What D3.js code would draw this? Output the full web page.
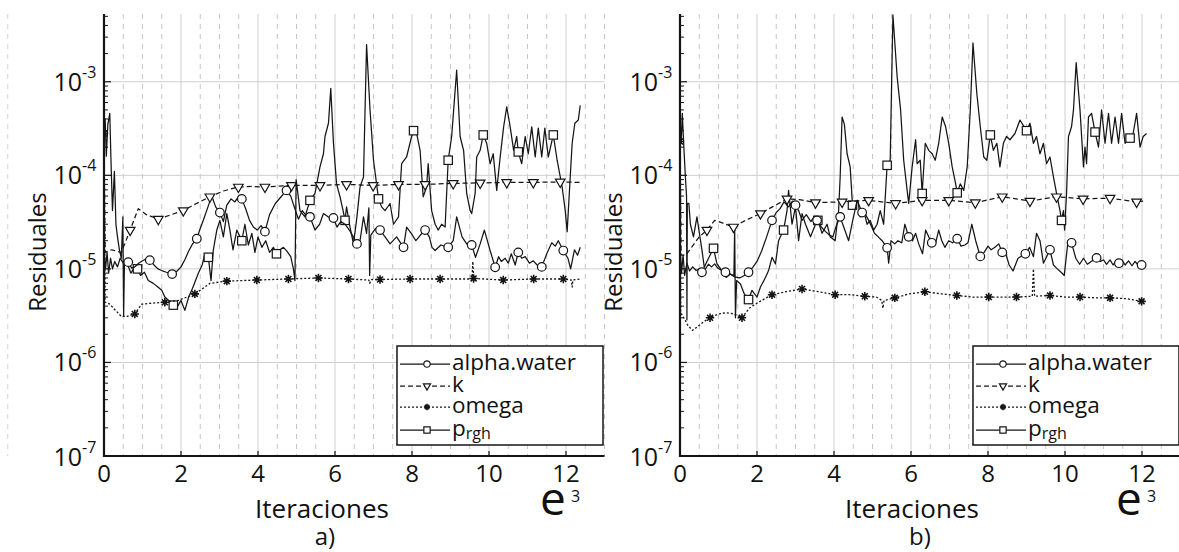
<!DOCTYPE html>
<html>
<head>
<meta charset="utf-8">
<script src="https://cdnjs.cloudflare.com/ajax/libs/d3/7.8.5/d3.min.js"></script>
<style>
  body { margin: 0; background: #fff; }
  svg { display: block; }
  text { font-family: 'Open Sans', 'Noto Sans', sans-serif; fill: #111; }
</style>
</head>
<body>
<svg id="chart" width="1179" height="552"></svg>
<script>
// ---- Residual histories, iterations in thousands (e3) ----

// Case a)
const alphaA = [[0,1.6e-5],[0.04,1.0e-5],[0.08,1.5e-5],[0.12,9.0e-6],[0.17,1.3e-5],[0.22,1.0e-5],[0.28,1.2e-5],[0.35,1.05e-5],[0.42,1.3e-5],[0.5,1.15e-5],[0.57,1.25e-5],[0.63,1.18e-5],[0.72,1.02e-5],[0.8,1.05e-5],[0.9,1.15e-5],[1.0,1.22e-5],[1.1,1.28e-5],[1.19,1.24e-5],[1.3,1.1e-5],[1.4,1.0e-5],[1.5,9.6e-6],[1.62,9.2e-6],[1.77,8.8e-6],[1.9,9.5e-6],[2.0,1.05e-5],[2.1,1.25e-5],[2.2,1.55e-5],[2.3,1.85e-5],[2.41,2.1e-5],[2.5,2.7e-5],[2.6,3.5e-5],[2.7,4.6e-5],[2.8,6.0e-5],[2.9,4.6e-5],[3.01,4.0e-5],[3.1,3.2e-5],[3.19,4.8e-5],[3.3,5.6e-5],[3.4,5.2e-5],[3.5,6.0e-5],[3.58,5.6e-5],[3.68,4.4e-5],[3.78,3.3e-5],[3.88,2.8e-5],[3.98,2.6e-5],[4.08,2.9e-5],[4.18,2.5e-5],[4.3,3.8e-5],[4.45,5.0e-5],[4.6,5.9e-5],[4.74,6.9e-5],[4.85,6.0e-5],[4.95,4.5e-5],[5.05,3.4e-5],[5.15,4.2e-5],[5.25,3.7e-5],[5.35,3.6e-5],[5.48,2.6e-5],[5.6,3.0e-5],[5.7,3.9e-5],[5.82,3.6e-5],[5.96,3.5e-5],[6.05,2.8e-5],[6.15,3.2e-5],[6.26,3.0e-5],[6.4,2.5e-5],[6.57,1.85e-5],[6.65,2.0e-5],[6.74,3.6e-5],[6.82,2.4e-5],[6.88,4.5e-5],[6.9,8.5e-6],[6.93,2.3e-5],[7.05,2.7e-5],[7.17,2.6e-5],[7.3,2.2e-5],[7.43,1.85e-5],[7.6,2.2e-5],[7.78,1.7e-5],[7.86,2.8e-5],[7.98,2.4e-5],[8.1,2.0e-5],[8.22,2.3e-5],[8.34,2.6e-5],[8.45,2.2e-5],[8.52,1.7e-5],[8.6,1.57e-5],[8.75,1.8e-5],[8.94,1.7e-5],[9.07,2.0e-5],[9.16,3.6e-5],[9.3,2.2e-5],[9.42,1.85e-5],[9.55,1.8e-5],[9.65,1.33e-5],[9.77,1.85e-5],[9.88,2.6e-5],[10.03,1.57e-5],[10.16,1.04e-5],[10.25,1.35e-5],[10.32,1.2e-5],[10.42,1.3e-5],[10.5,1.15e-5],[10.58,1.45e-5],[10.68,1.1e-5],[10.76,1.5e-5],[10.85,1.3e-5],[10.94,1.35e-5],[11.05,1.15e-5],[11.15,1.22e-5],[11.25,1.1e-5],[11.37,1.05e-5],[11.5,1.45e-5],[11.63,1.9e-5],[11.72,1.75e-5],[11.8,2.0e-5],[11.93,1.57e-5],[12.05,1.3e-5],[12.12,1.0e-5],[12.22,1.6e-5],[12.3,1.4e-5],[12.37,1.7e-5]];
const alphaMarksA = [0.63,1.19,1.77,2.41,3.01,3.58,4.18,4.74,5.35,5.96,6.57,7.17,7.78,8.34,8.94,9.55,10.16,10.76,11.37,11.93];

const kA = [[0,2.5e-4],[0.03,1.5e-5],[0.2,1.6e-5],[0.45,1.5e-5],[0.68,2.6e-5],[0.89,4.4e-5],[1.1,3.8e-5],[1.41,3.4e-5],[1.75,3.8e-5],[2.06,4.2e-5],[2.4,5.0e-5],[2.75,5.9e-5],[3.1,6.8e-5],[3.49,7.5e-5],[3.85,7.6e-5],[4.18,7.5e-5],[4.87,7.8e-5],[5.61,7.8e-5],[6.3,8.0e-5],[6.99,7.8e-5],[7.65,8.0e-5],[8.34,8.0e-5],[9.07,8.2e-5],[9.77,8.3e-5],[10.46,8.4e-5],[11.15,8.4e-5],[11.85,8.5e-5],[12.37,8.4e-5]];
const kMarksA = [0.68,1.41,2.06,2.75,3.49,4.18,4.87,5.61,6.3,6.99,7.65,8.34,9.07,9.77,10.46,11.15,11.85];

const omegaA = [[0,2.8e-4],[0.03,4.4e-6],[0.15,4.2e-6],[0.3,3.6e-6],[0.45,3.1e-6],[0.6,3.1e-6],[0.8,3.3e-6],[0.98,4.2e-6],[1.25,4.3e-6],[1.58,4.4e-6],[1.93,4.6e-6],[2.36,5.4e-6],[2.62,6.4e-6],[2.75,7.0e-6],[3.19,7.4e-6],[3.97,7.6e-6],[4.79,7.8e-6],[5.57,8.0e-6],[6.35,7.8e-6],[6.88,7.6e-6],[6.9,7.0e-6],[6.95,7.7e-6],[7.17,7.7e-6],[7.95,7.8e-6],[8.73,7.8e-6],[9.56,7.8e-6],[9.58,1.2e-5],[9.6,7.9e-6],[10.37,7.6e-6],[11.16,7.8e-6],[11.93,7.8e-6],[12.14,7.6e-6],[12.16,6.4e-6],[12.18,7.6e-6],[12.37,7.8e-6]];
const omegaMarksA = [0,0.8,1.58,2.36,3.19,3.97,4.79,5.57,6.35,7.17,7.95,8.73,9.6,10.37,11.16,11.93];

const prghA = [[0,2.8e-4],[0.03,4.0e-4],[0.06,1.6e-4],[0.1,3.5e-4],[0.15,4.6e-4],[0.18,1.5e-4],[0.22,4.2e-5],[0.27,1.1e-4],[0.31,3.0e-5],[0.35,2.2e-5],[0.4,1.6e-5],[0.45,1.3e-5],[0.49,3.6e-5],[0.51,3.1e-6],[0.53,1.1e-5],[0.6,1.15e-5],[0.7,9.0e-6],[0.8,1.05e-5],[0.87,1.0e-5],[0.95,8.5e-6],[1.05,9.2e-6],[1.15,7.5e-6],[1.28,7.0e-6],[1.4,6.4e-6],[1.5,5.9e-6],[1.58,5.0e-6],[1.7,4.5e-6],[1.8,4.1e-6],[1.9,3.9e-6],[2.0,4.6e-6],[2.1,3.6e-6],[2.2,5.0e-6],[2.3,6.2e-6],[2.45,9.0e-6],[2.55,1.1e-5],[2.62,1.45e-5],[2.71,1.33e-5],[2.78,7.5e-6],[2.84,1.6e-5],[2.93,2.6e-5],[3.01,3.3e-5],[3.1,2.2e-5],[3.19,3.9e-5],[3.27,2.6e-5],[3.35,1.6e-5],[3.45,2.6e-5],[3.58,2.0e-5],[3.66,3.0e-5],[3.75,1.8e-5],[3.84,2.4e-5],[3.92,1.5e-5],[4.0,2.2e-5],[4.1,1.7e-5],[4.2,2.0e-5],[4.3,1.5e-5],[4.4,1.7e-5],[4.48,1.45e-5],[4.57,1.6e-5],[4.66,1.7e-5],[4.75,1.55e-5],[4.85,1.35e-5],[4.92,1.0e-5],[4.96,7.5e-6],[4.99,9.0e-5],[5.09,4.2e-5],[5.22,3.6e-5],[5.35,5.4e-5],[5.48,6.4e-5],[5.61,1.23e-4],[5.7,1.7e-4],[5.74,2.6e-4],[5.83,3.6e-4],[5.89,8.5e-4],[5.96,2.2e-4],[6.04,8.1e-5],[6.13,5.9e-5],[6.21,4.2e-5],[6.26,3.3e-5],[6.3,4.6e-5],[6.39,2.8e-5],[6.48,1.85e-5],[6.57,3.6e-5],[6.65,7.5e-5],[6.74,9.6e-5],[6.82,2.5e-3],[6.91,5.0e-4],[7.0,1.45e-4],[7.08,8.1e-5],[7.13,5.6e-5],[7.21,4.6e-5],[7.3,4.2e-5],[7.43,5.0e-5],[7.52,3.0e-5],[7.65,3.6e-5],[7.73,1.33e-4],[7.86,1.57e-4],[7.99,2.6e-4],[8.04,3.0e-4],[8.12,2.8e-4],[8.21,1.85e-4],[8.29,5.9e-5],[8.38,7.5e-5],[8.42,1.33e-4],[8.51,4.2e-5],[8.6,3.0e-5],[8.68,2.6e-5],[8.77,3.0e-5],[8.86,2.8e-5],[8.94,1.45e-4],[9.03,2.6e-4],[9.16,1.33e-3],[9.25,2.6e-4],[9.34,1.85e-4],[9.42,6.4e-5],[9.51,4.2e-5],[9.55,3.9e-5],[9.64,6.4e-5],[9.68,1.57e-4],[9.77,1.85e-4],[9.85,2.7e-4],[9.94,2.2e-4],[10.03,1.33e-4],[10.11,1.7e-4],[10.2,6.9e-5],[10.29,1.57e-4],[10.38,3.3e-4],[10.46,5.4e-4],[10.55,3.3e-4],[10.64,1.85e-4],[10.72,2.6e-4],[10.76,1.78e-4],[10.85,1.33e-4],[10.94,2.6e-4],[11.02,1.7e-4],[11.11,3.3e-4],[11.2,1.57e-4],[11.28,3.2e-4],[11.37,1.57e-4],[11.45,3.2e-4],[11.54,1.57e-4],[11.67,2.7e-4],[11.77,1.45e-4],[11.9,7.5e-5],[11.98,4.2e-5],[12.03,2.5e-5],[12.11,9.6e-5],[12.16,2.2e-4],[12.23,3.6e-4],[12.32,3.9e-4],[12.37,5.6e-4]];
const prghMarksA = [0.87,1.8,2.71,3.58,4.48,5.35,6.26,7.13,8.04,8.94,9.85,10.76,11.67];

// Case b)
const alphaB = [[0,1.8e-5],[0.04,9.0e-6],[0.08,1.4e-5],[0.12,8.5e-6],[0.18,1.15e-5],[0.25,9.5e-6],[0.33,1.05e-5],[0.42,9.6e-6],[0.5,1.0e-5],[0.57,9.2e-6],[0.66,1.0e-5],[0.74,1.12e-5],[0.82,1.05e-5],[0.9,1.13e-5],[0.98,1.02e-5],[1.08,9.6e-6],[1.18,9.2e-6],[1.3,8.8e-6],[1.42,8.2e-6],[1.55,8.0e-6],[1.67,8.5e-6],[1.78,9.2e-6],[1.9,1.05e-5],[2.0,1.2e-5],[2.12,1.55e-5],[2.25,2.2e-5],[2.39,3.3e-5],[2.5,4.0e-5],[2.6,4.4e-5],[2.7,5.2e-5],[2.82,4.6e-5],[2.92,5.3e-5],[3.0,4.8e-5],[3.08,4.2e-5],[3.17,3.3e-5],[3.28,3.8e-5],[3.4,3.2e-5],[3.48,3.6e-5],[3.56,3.3e-5],[3.67,2.8e-5],[3.78,2.5e-5],[3.88,2.3e-5],[3.97,2.2e-5],[4.06,2.9e-5],[4.16,3.6e-5],[4.28,2.6e-5],[4.38,2.0e-5],[4.48,3.2e-5],[4.6,5.4e-5],[4.73,4.0e-5],[4.82,3.8e-5],[4.9,3.3e-5],[4.98,2.8e-5],[5.05,2.4e-5],[5.15,2.2e-5],[5.25,2.0e-5],[5.38,1.68e-5],[5.42,1.15e-5],[5.48,2.0e-5],[5.58,1.85e-5],[5.66,2.0e-5],[5.76,1.9e-5],[5.84,3.0e-5],[5.94,2.2e-5],[6.04,2.0e-5],[6.12,2.4e-5],[6.2,1.85e-5],[6.3,1.45e-5],[6.38,2.6e-5],[6.46,2.2e-5],[6.54,1.9e-5],[6.64,1.9e-5],[6.72,2.6e-5],[6.8,2.0e-5],[6.88,1.7e-5],[6.98,2.0e-5],[7.08,1.9e-5],[7.2,2.1e-5],[7.3,1.75e-5],[7.4,1.8e-5],[7.48,1.9e-5],[7.58,3.0e-5],[7.68,2.0e-5],[7.8,1.36e-5],[7.9,1.5e-5],[8.0,1.75e-5],[8.08,1.6e-5],[8.18,1.7e-5],[8.28,1.85e-5],[8.37,1.5e-5],[8.46,1.45e-5],[8.55,1.1e-5],[8.65,9.5e-6],[8.78,1.3e-5],[8.97,1.45e-5],[9.08,1.7e-5],[9.18,1.35e-5],[9.26,2.4e-5],[9.35,2.0e-5],[9.44,1.15e-5],[9.61,1.6e-5],[9.7,1.1e-5],[9.8,1.0e-5],[9.9,9.2e-6],[9.98,8.5e-6],[10.08,2.0e-5],[10.17,1.9e-5],[10.28,1.3e-5],[10.38,1.12e-5],[10.48,1.3e-5],[10.58,1.12e-5],[10.68,1.2e-5],[10.82,1.31e-5],[10.92,1.2e-5],[11.0,1.25e-5],[11.08,1.12e-5],[11.17,1.25e-5],[11.25,1.1e-5],[11.33,1.23e-5],[11.4,1.15e-5],[11.48,1.25e-5],[11.56,1.1e-5],[11.65,1.22e-5],[11.74,1.08e-5],[11.82,1.2e-5],[11.9,1.1e-5],[11.99,1.1e-5]];
const alphaMarksB = [0.57,1.18,1.78,2.39,3.0,3.56,4.16,4.73,5.38,5.94,6.54,7.2,7.8,8.37,8.97,9.61,10.17,10.82,11.4,11.99];

const kB = [[0,2.3e-4],[0.03,1.4e-5],[0.15,1.4e-5],[0.3,1.7e-5],[0.5,2.2e-5],[0.7,2.6e-5],[0.9,3.3e-5],[1.1,3.1e-5],[1.39,2.8e-5],[1.7,3.3e-5],[2.09,3.9e-5],[2.4,4.6e-5],[2.78,5.6e-5],[3.1,5.5e-5],[3.52,5.1e-5],[4.21,5.2e-5],[4.9,5.4e-5],[5.6,5.0e-5],[6.29,5.4e-5],[6.98,5.4e-5],[7.67,5.1e-5],[8.37,5.9e-5],[9.09,5.3e-5],[9.78,5.9e-5],[10.47,5.6e-5],[11.17,5.7e-5],[11.86,5.2e-5],[12.03,5.3e-5]];
const kMarksB = [0.7,1.39,2.09,2.78,3.52,4.21,4.9,5.6,6.29,6.98,7.67,8.37,9.09,9.78,10.47,11.17,11.86];

const omegaB = [[0,2.3e-4],[0.02,3.4e-6],[0.1,3.0e-6],[0.2,2.5e-6],[0.32,2.2e-6],[0.45,2.4e-6],[0.6,2.7e-6],[0.78,3.0e-6],[1.0,3.3e-6],[1.2,3.4e-6],[1.4,3.3e-6],[1.61,3.0e-6],[1.8,3.8e-6],[2.0,4.3e-6],[2.2,4.8e-6],[2.39,5.3e-6],[2.75,5.7e-6],[3.17,6.1e-6],[3.6,5.7e-6],[4.03,5.3e-6],[4.4,5.3e-6],[4.8,5.1e-6],[5.1,5.0e-6],[5.24,4.6e-6],[5.27,3.8e-6],[5.3,4.6e-6],[5.58,4.9e-6],[5.95,5.4e-6],[6.36,5.7e-6],[6.8,5.4e-6],[7.19,5.2e-6],[7.6,5.0e-6],[8.02,5.0e-6],[8.4,5.0e-6],[8.74,5.0e-6],[9.15,5.1e-6],[9.18,1.0e-5],[9.21,5.1e-6],[9.61,5.2e-6],[10.0,5.0e-6],[10.39,5.0e-6],[10.8,4.9e-6],[11.17,4.9e-6],[11.6,4.8e-6],[11.99,4.5e-6]];
const omegaMarksB = [0,0.78,1.61,2.39,3.17,4.03,4.8,5.58,6.36,7.19,8.02,8.74,9.61,10.39,11.17,11.99];

const prghB = [[0,4.2e-4],[0.03,2.2e-4],[0.06,4.6e-4],[0.1,2.0e-4],[0.14,9.6e-5],[0.17,6.0e-5],[0.18,2.85e-6],[0.19,5.0e-5],[0.23,5.0e-5],[0.27,3.0e-5],[0.35,2.2e-5],[0.44,3.6e-5],[0.48,2.8e-5],[0.57,1.6e-5],[0.63,1.04e-5],[0.7,1.2e-5],[0.78,1.4e-5],[0.87,1.66e-5],[0.96,1.13e-5],[1.09,9.6e-6],[1.2,8.1e-6],[1.31,8.8e-6],[1.4,8.5e-6],[1.42,2.8e-5],[1.44,3.0e-6],[1.47,7.5e-6],[1.57,6.9e-6],[1.67,5.4e-6],[1.78,4.7e-6],[1.87,5.9e-6],[2.0,5.0e-6],[2.09,6.4e-6],[2.22,8.1e-6],[2.3,9.6e-6],[2.39,1.33e-5],[2.48,1.13e-5],[2.56,2.0e-5],[2.69,2.6e-5],[2.78,4.2e-5],[2.82,6.9e-5],[2.91,3.0e-5],[3.0,4.6e-5],[3.08,2.0e-5],[3.17,3.9e-5],[3.26,3.0e-5],[3.39,2.2e-5],[3.52,3.0e-5],[3.58,3.3e-5],[3.69,2.4e-5],[3.82,3.0e-5],[3.9,2.2e-5],[4.03,2.0e-5],[4.12,4.2e-5],[4.16,9.6e-5],[4.21,4.2e-4],[4.27,3.5e-4],[4.34,1.7e-4],[4.42,1.23e-4],[4.48,4.8e-5],[4.55,5.0e-5],[4.62,5.4e-5],[4.68,3.6e-5],[4.77,4.2e-5],[4.86,3.0e-5],[4.94,3.3e-5],[5.03,2.6e-5],[5.12,3.0e-5],[5.2,4.2e-5],[5.29,3.0e-5],[5.38,1.28e-4],[5.46,1.45e-4],[5.53,5.2e-3],[5.64,1.13e-3],[5.73,5.0e-4],[5.81,1.45e-4],[5.9,6.9e-5],[5.94,5.0e-5],[6.03,1.23e-4],[6.12,2.4e-4],[6.16,1.33e-4],[6.24,1.45e-4],[6.29,6.4e-5],[6.37,2.2e-4],[6.46,1.85e-4],[6.55,1.7e-4],[6.63,1.45e-4],[6.72,2.2e-4],[6.81,4.2e-4],[6.9,3.3e-4],[6.98,2.2e-4],[7.07,1.23e-4],[7.16,8.1e-5],[7.2,6.5e-5],[7.28,8.1e-5],[7.37,6.9e-5],[7.46,1.23e-4],[7.54,5.0e-4],[7.61,2.6e-3],[7.71,7.5e-4],[7.8,3.3e-4],[7.89,1.57e-4],[7.97,1.45e-4],[8.06,2.7e-4],[8.14,1.85e-4],[8.23,2.2e-4],[8.31,1.23e-4],[8.4,2.2e-4],[8.48,2.6e-4],[8.57,2.4e-4],[8.7,2.8e-4],[8.83,3.9e-4],[9.0,3.0e-4],[9.09,3.6e-4],[9.18,2.2e-4],[9.26,2.6e-4],[9.35,1.7e-4],[9.44,2.2e-4],[9.52,1.33e-4],[9.61,1.57e-4],[9.7,9.6e-5],[9.78,6.4e-5],[9.87,4.2e-5],[9.91,3.3e-5],[9.96,4.2e-5],[9.99,2.6e-5],[10.04,6.4e-5],[10.09,2.6e-4],[10.17,3.3e-4],[10.22,5.0e-4],[10.29,1.6e-3],[10.39,5.0e-4],[10.48,1.23e-4],[10.52,2.0e-4],[10.56,1.33e-4],[10.61,4.2e-4],[10.69,4.6e-4],[10.78,2.9e-4],[10.87,2.0e-4],[10.95,5.0e-4],[11.04,2.2e-4],[11.13,4.6e-4],[11.21,2.2e-4],[11.3,4.2e-4],[11.39,2.2e-4],[11.47,4.6e-4],[11.56,2.2e-4],[11.69,2.5e-4],[11.77,2.8e-4],[11.86,4.6e-4],[11.95,2.0e-4],[12.03,2.6e-4],[12.12,2.8e-4]];
const prghMarksB = [0.87,1.78,2.69,3.58,4.48,5.38,6.29,7.2,8.06,9.0,9.91,10.78,11.69];

// Axis ticks and labels
const yDecadeExps = [-7, -6, -5, -4, -3];
const xTickValues = [0, 2, 4, 6, 8, 10, 12];
const X_DOMAIN = [0, 13];
const Y_DOMAIN = [1e-7, 5.3e-3];
const legendNames = ['alpha.water', 'k', 'omega', 'p'];

// ---- Drawing ----
const svg = d3.select('#chart');
const INK = '#151515';
const TOP = 14, BOTTOM = 456, PLOT_W = 500.5;

const y = d3.scaleLog().domain(Y_DOMAIN).range([BOTTOM, TOP]);

function asteriskPath(r) {
  let s = '';
  for (let i = 0; i < 4; i++) {
    const a = i * Math.PI / 4;
    const dx = r * Math.cos(a), dy = r * Math.sin(a);
    s += `M${-dx},${-dy}L${dx},${dy}`;
  }
  return s;
}

// marker painters keyed by series
const markerDefs = {
  alpha: (g, s) => g.append('circle').attr('r', 4.3 * s).attr('fill', '#fff').attr('stroke', INK).attr('stroke-width', 1.2),
  k: (g, s) => g.append('path').attr('d', d3.symbol(d3.symbolTriangle, 40 * s * s)()).attr('transform', 'rotate(180)')
      .attr('fill', '#fff').attr('stroke', INK).attr('stroke-width', 1.2),
  omega: (g, s) => g.append('path').attr('d', asteriskPath(4.2 * s)).attr('fill', 'none').attr('stroke', INK).attr('stroke-width', 1.6),
  p: (g, s) => g.append('rect').attr('x', -4.2 * s).attr('y', -4.2 * s).attr('width', 8.4 * s).attr('height', 8.4 * s)
      .attr('fill', '#fff').attr('stroke', INK).attr('stroke-width', 1.2)
};
const dashes = { alpha: null, k: '5,3', omega: '2,2', p: null };

const panels = [
  { x0: 104, tag: 'a)', tagX: 325, titleX: 322, clip: 'clipA',
    series: { p: [prghA, prghMarksA], alpha: [alphaA, alphaMarksA], k: [kA, kMarksA], omega: [omegaA, omegaMarksA] } },
  { x0: 680, tag: 'b)', tagX: 920, titleX: 912, clip: 'clipB',
    series: { p: [prghB, prghMarksB], alpha: [alphaB, alphaMarksB], k: [kB, kMarksB], omega: [omegaB, omegaMarksB] } }
];

const defs = svg.append('defs');

panels.forEach((P, pi) => {
  const x = d3.scaleLinear().domain(X_DOMAIN).range([P.x0, P.x0 + PLOT_W]);
  const g = svg.append('g');

  defs.append('clipPath').attr('id', P.clip).append('rect')
    .attr('x', P.x0).attr('y', TOP - 2).attr('width', PLOT_W).attr('height', BOTTOM - TOP + 2);

  // vertical grid: solid at labelled ticks, dashed every half unit
  const gridX = d3.range(X_DOMAIN[0], X_DOMAIN[1] + 0.001, 0.5).filter(v => v > 0);
  g.append('g').selectAll('line').data(gridX).join('line')
    .attr('x1', d => x(d)).attr('x2', d => x(d)).attr('y1', TOP).attr('y2', BOTTOM)
    .attr('stroke', d => d % 2 === 0 ? '#cfcfcf' : '#c6c6c6')
    .attr('stroke-width', 1)
    .attr('stroke-dasharray', d => d % 2 === 0 ? null : '5,5');
  if (pi === 0) {
    g.append('line').attr('x1', x(-2.5)).attr('x2', x(-2.5)).attr('y1', TOP).attr('y2', BOTTOM)
      .attr('stroke', '#d4d4d4').attr('stroke-dasharray', '5,5');
  }

  // horizontal grid at decades
  const gridY = yDecadeExps.slice(1).map(e => Math.pow(10, e));
  g.append('g').selectAll('line').data(gridY).join('line')
    .attr('x1', P.x0).attr('x2', P.x0 + PLOT_W).attr('y1', d => y(d)).attr('y2', d => y(d))
    .attr('stroke', '#cfcfcf').attr('stroke-width', 1);

  // series
  const line = d3.line().x(d => x(d[0])).y(d => y(d[1]));
  const plot = g.append('g').attr('clip-path', `url(#${P.clip})`);
  ['p', 'alpha', 'k', 'omega'].forEach(key => {
    const [data, marks] = P.series[key];
    plot.append('path').datum(data).attr('d', line)
      .attr('fill', 'none').attr('stroke', INK)
      .attr('stroke-width', key === 'omega' ? 1.3 : 1.25)
      .attr('stroke-linejoin', 'round')
      .attr('stroke-dasharray', dashes[key]);
    marks.forEach(mx => {
      const pt = data.reduce((b, d) => Math.abs(d[0] - mx) < Math.abs(b[0] - mx) ? d : b, data[0]);
      const mg = plot.append('g').attr('transform', `translate(${x(pt[0])},${y(pt[1])})`);
      markerDefs[key](mg, 1);
    });
  });

  // axes
  const ax = g.append('g');
  ax.append('line').attr('x1', P.x0).attr('x2', P.x0).attr('y1', TOP).attr('y2', BOTTOM + 1)
    .attr('stroke', INK).attr('stroke-width', 2.2);
  ax.append('line').attr('x1', P.x0 - 1).attr('x2', P.x0 + PLOT_W).attr('y1', BOTTOM).attr('y2', BOTTOM)
    .attr('stroke', INK).attr('stroke-width', 2.2);

  // y ticks: majors at decades, log minors between
  const minors = [];
  yDecadeExps.forEach(e => {
    for (let m = 2; m <= 9; m++) {
      const v = m * Math.pow(10, e);
      if (v <= Y_DOMAIN[1]) minors.push(v);
    }
  });
  ax.selectAll('line.minor').data(minors).join('line')
    .attr('x1', P.x0).attr('x2', P.x0 + 4).attr('y1', d => y(d)).attr('y2', d => y(d))
    .attr('stroke', INK).attr('stroke-width', 1);
  ax.selectAll('line.major').data(gridY).join('line')
    .attr('x1', P.x0).attr('x2', P.x0 + 7).attr('y1', d => y(d)).attr('y2', d => y(d))
    .attr('stroke', INK).attr('stroke-width', 1.2);

  yDecadeExps.forEach(e => {
    const yy = y(Math.pow(10, e));
    const base = e === -7 ? yy + 10 : yy + 9;
    ax.append('text').attr('x', P.x0 - 22).attr('y', base).attr('text-anchor', 'end')
      .attr('font-size', 25).text('10');
    ax.append('text').attr('x', P.x0 - 22).attr('y', base - 13).attr('text-anchor', 'start')
      .attr('font-size', 16).text('-' + Math.abs(e));
  });

  // x ticks
  ax.selectAll('line.xt').data(xTickValues).join('line')
    .attr('x1', d => x(d)).attr('x2', d => x(d)).attr('y1', BOTTOM).attr('y2', BOTTOM - 5)
    .attr('stroke', INK).attr('stroke-width', 1.2);
  ax.selectAll('text.xl').data(xTickValues).join('text')
    .attr('x', d => x(d)).attr('y', 482).attr('text-anchor', 'middle')
    .attr('font-size', 24).text(d => d);

  // multiplier e3
  ax.append('text').attr('x', P.x0 + 436).attr('y', 515).attr('font-size', 46).text('e');
  ax.append('text').attr('x', P.x0 + 467).attr('y', 502).attr('font-size', 16).text('3');

  // axis titles
  ax.append('text').attr('transform', `translate(${P.x0 - 58},252) rotate(-90)`)
    .attr('text-anchor', 'middle').attr('font-size', 24).text('Residuales');
  ax.append('text').attr('x', P.titleX).attr('y', 518).attr('text-anchor', 'middle')
    .attr('font-size', 26).text('Iteraciones');
  ax.append('text').attr('x', P.tagX).attr('y', 545).attr('text-anchor', 'middle')
    .attr('font-size', 24).text(P.tag);

  // legend
  const L = g.append('g');
  const lx = P.x0 + 293, ly = 346, lw = 206, lh = 99;
  L.append('rect').attr('x', lx).attr('y', ly).attr('width', lw).attr('height', lh)
    .attr('fill', '#fff').attr('stroke', INK).attr('stroke-width', 1.5);
  const rows = [364, 386, 407, 430];
  ['alpha', 'k', 'omega', 'p'].forEach((key, i) => {
    const ry = rows[i];
    L.append('line').attr('x1', lx + 3).attr('x2', lx + 53).attr('y1', ry).attr('y2', ry)
      .attr('stroke', INK).attr('stroke-width', 1.25).attr('stroke-dasharray', dashes[key]);
    const mg = L.append('g').attr('transform', `translate(${lx + 30},${ry})`);
    markerDefs[key](mg, 0.75);
    const t = L.append('text').attr('x', lx + 55).attr('y', ry + 6).attr('font-size', 22.5);
    if (key === 'p') {
      t.append('tspan').text('p');
      t.append('tspan').attr('font-size', 16).attr('dy', 3).text('rgh');
    } else {
      t.text(legendNames[i]);
    }
  });
});
</script>
</body>
</html>
